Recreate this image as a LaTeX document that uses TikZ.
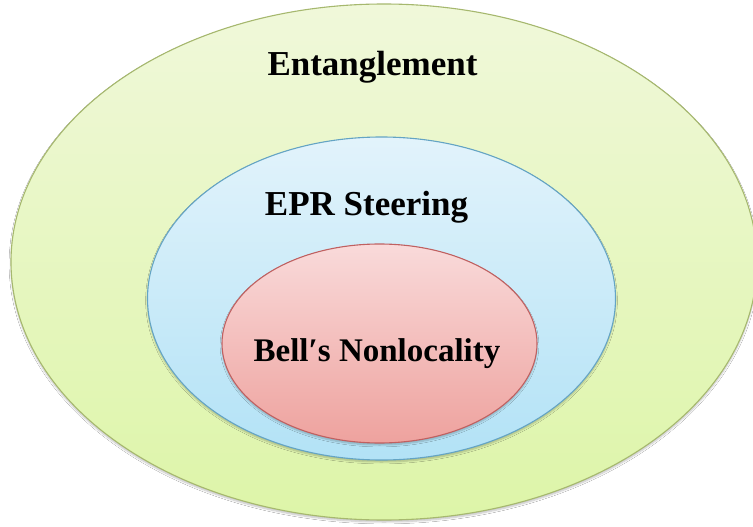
\documentclass[tikz,border=0pt]{standalone}
\usepackage{fontspec}
\setmainfont{Liberation Serif}
\usetikzlibrary{shapes.geometric,shadows.blur}
\definecolor{gtop}{RGB}{240,248,218}
\definecolor{gbot}{RGB}{221,245,168}
\definecolor{gline}{RGB}{166,184,110}
\definecolor{btop}{RGB}{226,243,251}
\definecolor{bbot}{RGB}{178,226,246}
\definecolor{bline}{RGB}{100,164,196}
\definecolor{rtop}{RGB}{249,218,218}
\definecolor{rbot}{RGB}{238,162,158}
\definecolor{rline}{RGB}{192,96,96}
\tikzset{
  setblob/.style={ellipse, inner sep=0pt, line width=1.1pt,
    blur shadow={shadow xshift=0pt, shadow yshift=-2pt, shadow blur steps=6, shadow opacity=25}},
  setlabel/.style={font=\bfseries\fontsize{35}{40}\selectfont, text=black, inner sep=0pt, anchor=base}
}
\begin{document}
\begin{tikzpicture}[x=1pt,y=-1pt]
\useasboundingbox (0,0) rectangle (753,527);
\fill[white] (0,0) rectangle (753,527);
\node[setblob, draw=gline, top color=gtop, bottom color=gbot,
  minimum width=746pt, minimum height=516pt] (outer) at (384,262) {};
\node[setblob, draw=bline, top color=btop, bottom color=bbot,
  minimum width=468pt, minimum height=323pt] (mid) at (381.5,298.5) {};
\node[setblob, draw=rline, top color=rtop, bottom color=rbot,
  minimum width=315pt, minimum height=199pt] (inner) at (379.5,343.5) {};
\node[setlabel] (ent) at (372.5,76) {Entanglement};
\node[setlabel] (epr) at (366.5,215) {EPR Steering};
\node[setlabel, font=\bfseries\fontsize{33}{38}\selectfont] (bell) at (377,361) {Bell′s Nonlocality};
\end{tikzpicture}
\end{document}
